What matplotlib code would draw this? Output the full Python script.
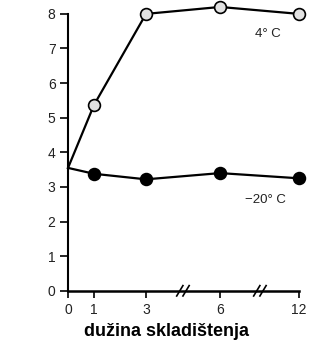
import matplotlib
matplotlib.use("Agg")
import matplotlib.pyplot as plt

# Data
months = [0, 1, 3, 6, 12]
tick_labels = ["0", "1", "3", "6", "12"]
temp_4c = [3.55, 5.37, 8.0, 8.2, 8.0]
temp_m20c = [3.55, 3.38, 3.22, 3.4, 3.25]
series_labels = ["4° C", "−20° C"]

# Broken-axis positions for x values
positions = [0, 1, 3, 5.85, 8.88]
break_positions = [4.42, 7.38]

plt.rcParams['font.family'] = ['Liberation Sans', 'DejaVu Sans']

fig = plt.figure(figsize=(3.12, 3.47), dpi=100)
ax = fig.add_axes([0.218, 0.162, 0.740, 0.798])

ax.plot(positions, temp_4c, color='black', lw=1.6, zorder=2, clip_on=False)
ax.plot(positions[1:], temp_4c[1:], 'o', ms=8.5, mfc='#e2e2e2', mec='black', mew=1.2, zorder=3, clip_on=False)
ax.plot(positions, temp_m20c, color='black', lw=1.6, zorder=2, clip_on=False)
ax.plot(positions[1:], temp_m20c[1:], 'o', ms=8.5, mfc='black', mec='black', mew=1.2, zorder=3, clip_on=False)

ax.text(7.7, 7.42, series_labels[0], fontsize=9.5, color='#222222', ha='center', va='center')
ax.text(7.6, 2.62, series_labels[1], fontsize=9.5, color='#222222', ha='center', va='center')

ax.set_xlim(0, 8.88)
ax.set_ylim(0, 8)
ax.set_xticks(positions)
ax.set_xticklabels(tick_labels)
ax.set_yticks(range(0, 9))
for s in ['top', 'right']:
    ax.spines[s].set_visible(False)
ax.spines['left'].set_linewidth(1.5)
ax.spines['bottom'].set_linewidth(1.8)
ax.tick_params(axis='y', direction='out', length=6, width=1.2, labelsize=10, pad=3, labelcolor='#222222')
ax.tick_params(axis='x', direction='out', length=5, width=1.2, labelsize=10, pad=4, labelcolor='#222222')

# break marks
for bp in break_positions:
    for dx in (-0.12, 0.12):
        ax.plot([bp + dx - 0.12, bp + dx + 0.12], [-0.15, 0.15], color='black', lw=1.2,
                clip_on=False, zorder=4)

fig.text(0.535, 1 - 332 / 347, "dužina skladištenja", fontsize=13, fontweight='bold',
         ha='center', va='center')

fig.savefig("out.png", dpi=100)
